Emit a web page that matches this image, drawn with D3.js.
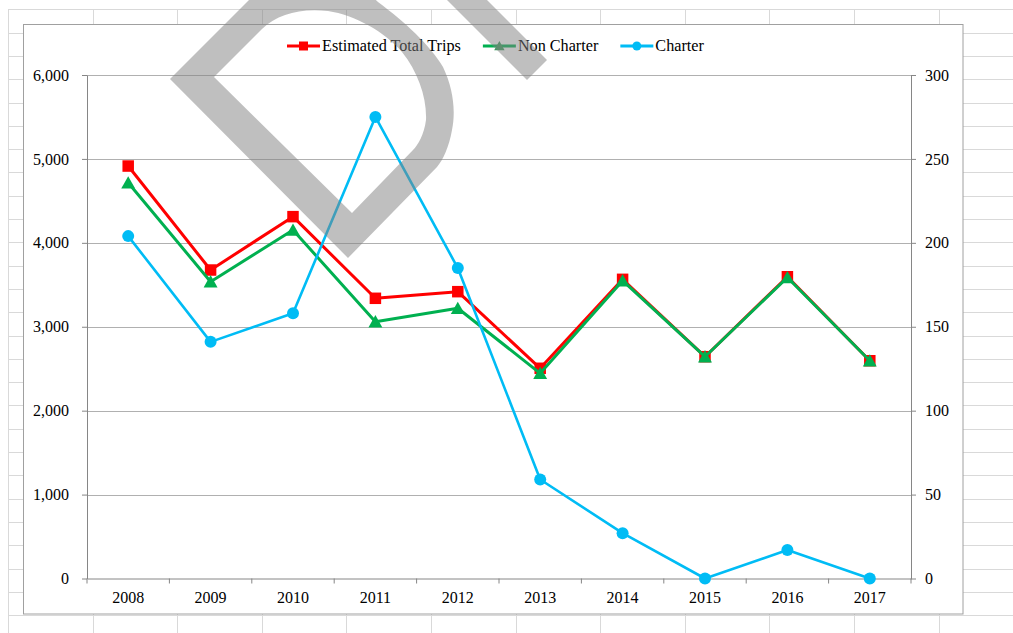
<!DOCTYPE html>
<html>
<head>
<meta charset="utf-8">
<script src="https://cdn.jsdelivr.net/npm/d3@7"></script>
<style>
  body { margin: 0; background: #fff; }
  svg { display: block; }
  text { font-family: "Liberation Serif", "Times New Roman", serif; font-size: 16px; fill: #000; }
</style>
</head>
<body>
<div id="canvas"></div>
<script>
// data
const years = ["2008", "2009", "2010", "2011", "2012", "2013", "2014", "2015", "2016", "2017"]
const totalTrips = [4915, 3676, 4312, 3339, 3418, 2505, 3565, 2643, 3596, 2595]
const nonCharter = [4716, 3537, 4153, 3060, 3220, 2445, 3549, 2643, 3587, 2595]
const charter = [204, 141, 158, 275, 185, 59, 27, 0, 17, 0]
const leftTicks = [0, 1000, 2000, 3000, 4000, 5000, 6000]
const rightTicks = [0, 50, 100, 150, 200, 250, 300]
const seriesNames = ["Estimated Total Trips", "Non Charter", "Charter"]

function drawChart() {
    const width = 1013
    const height = 633

    const dimensions = {
        box: { left: 23.5, top: 24.5, right: 963, bottom: 614 },
        plot: { left: 87, top: 75, right: 911, bottom: 578.5 },
    }

    const svg = d3.select("#canvas")
        .append("svg")
        .attr("width", width)
        .attr("height", height)

    // spreadsheet cells behind the chart
    const sheet = svg.append("g").attr("stroke", "#d9d9d9").attr("stroke-width", 1)
    d3.range(8, width, 84.6).forEach(x => {
        sheet.append("line").attr("x1", Math.round(x) + 0.5).attr("x2", Math.round(x) + 0.5)
            .attr("y1", 9).attr("y2", height)
    })
    d3.range(9.3, height, 23.3).forEach(y => {
        sheet.append("line").attr("y1", Math.round(y) + 0.5).attr("y2", Math.round(y) + 0.5)
            .attr("x1", 8).attr("x2", width)
    })

    // chart box
    svg.append("rect")
        .attr("x", dimensions.box.left)
        .attr("y", dimensions.box.top)
        .attr("width", dimensions.box.right - dimensions.box.left)
        .attr("height", dimensions.box.bottom - dimensions.box.top)
        .attr("fill", "#fff")
        .attr("stroke", "#a0a0a0")

    // scales
    const xScale = d3.scaleBand()
        .domain(years)
        .range([dimensions.plot.left, dimensions.plot.right])
        .padding(0)
    const xCenter = d => xScale(d) + xScale.bandwidth() / 2

    const yLeft = d3.scaleLinear()
        .domain([0, 6000])
        .range([dimensions.plot.bottom, dimensions.plot.top])
    const yRight = d3.scaleLinear()
        .domain([0, 300])
        .range([dimensions.plot.bottom, dimensions.plot.top])

    // gridlines
    svg.append("g")
        .selectAll("line")
        .data(leftTicks.filter(d => d > 0))
        .enter().append("line")
        .attr("x1", dimensions.plot.left)
        .attr("x2", dimensions.plot.right)
        .attr("y1", d => Math.round(yLeft(d)) + 0.5)
        .attr("y2", d => Math.round(yLeft(d)) + 0.5)
        .attr("stroke", "#b0b0b0")

    // axes
    const leftAxis = svg.append("g")
        .attr("transform", `translate(${dimensions.plot.left},0)`)
        .call(d3.axisLeft(yLeft).tickValues(leftTicks).tickFormat(d3.format(",")).tickSize(5).tickSizeOuter(0).tickPadding(13))
    const rightAxis = svg.append("g")
        .attr("transform", `translate(${dimensions.plot.right},0)`)
        .call(d3.axisRight(yRight).tickValues(rightTicks).tickSize(5).tickSizeOuter(0).tickPadding(9))
    const bottomAxis = svg.append("g")
        .attr("transform", `translate(0,${dimensions.plot.bottom})`)
        .call(d3.axisBottom(xScale).tickSize(0).tickSizeOuter(0).tickPadding(13))

    // boundary ticks between categories
    bottomAxis.selectAll(".cat-tick")
        .data(d3.range(years.length + 1))
        .enter().append("line")
        .attr("class", "cat-tick")
        .attr("x1", i => dimensions.plot.left + i * xScale.step())
        .attr("x2", i => dimensions.plot.left + i * xScale.step())
        .attr("y1", 0)
        .attr("y2", 5)
        .attr("stroke", "#868686")

    ;[leftAxis, rightAxis, bottomAxis].forEach(ax => {
        ax.selectAll("path.domain").attr("stroke", "#868686")
        ax.selectAll(".tick line").attr("stroke", "#868686")
        ax.selectAll("text")
            .style("font-family", '"Liberation Serif", "Times New Roman", serif')
            .style("font-size", "16px")
            .attr("fill", "#000")
    })

    // series
    const series = [
        { name: seriesNames[0], values: totalTrips, y: yLeft, color: "#ff0000", marker: "square", width: 3 },
        { name: seriesNames[1], values: nonCharter, y: yLeft, color: "#00b050", marker: "triangle", width: 3 },
        { name: seriesNames[2], values: charter, y: yRight, color: "#00bcf5", marker: "circle", width: 2.6 },
    ]

    const markerPath = (type, size) => {
        if (type === "square") return d3.symbol(d3.symbolSquare, size * size)()
        if (type === "triangle") return `M0,${-size * 0.55}L${size * 0.58},${size * 0.48}L${-size * 0.58},${size * 0.48}Z`
        return d3.symbol(d3.symbolCircle, Math.PI * (size / 2) * (size / 2))()
    }

    series.forEach(s => {
        const line = d3.line()
            .x((d, i) => xCenter(years[i]))
            .y(d => s.y(d))
        svg.append("path")
            .datum(s.values)
            .attr("d", line)
            .attr("fill", "none")
            .attr("stroke", s.color)
            .attr("stroke-width", s.width)
            .attr("stroke-linejoin", "round")

        svg.append("g")
            .selectAll("path")
            .data(s.values)
            .enter().append("path")
            .attr("transform", (d, i) => `translate(${xCenter(years[i])},${s.y(d)})`)
            .attr("d", markerPath(s.marker, s.marker === "square" ? 11.5 : 12))
            .attr("fill", s.color)
    })

    // legend
    const legend = svg.append("g").attr("transform", "translate(287,46)")
    let cursor = 0
    series.forEach(s => {
        const item = legend.append("g").attr("transform", `translate(${cursor},0)`)
        item.append("line")
            .attr("x1", 0).attr("x2", 33)
            .attr("stroke", s.color).attr("stroke-width", 3)
        item.append("path")
            .attr("transform", "translate(16.5,0)")
            .attr("d", markerPath(s.marker, 9))
            .attr("fill", s.marker === "triangle" ? "#3a9a5c" : s.color)
        const label = item.append("text")
            .attr("x", 35)
            .attr("y", 5)
            .style("font-size", "16.2px")
            .text(s.name)
        cursor += 35 + label.node().getComputedTextLength() + 22
    })

    // grey watermark on top
    const mark = svg.append("g").attr("fill", "rgba(128,128,128,0.5)")
    mark.append("path")
        .attr("fill-rule", "evenodd")
        .attr("d",
            "M170,79 L258,-9 C285,-33 345,-30 378,2 C405,22 430,45 443,67 C453,88 456,110 452,130 C449,147 443,160 437,167 L348,258 Z " +
            "M214,77 L262,29 C278,14 300,8 328,11 C355,15 385,32 402,52 C418,72 427,98 426,120 C424,135 418,145 413,150 L352,213 Z")
    mark.append("path")
        .attr("d", "M447,-40 L547,60 L527,80 L407,-40 Z")
}
drawChart()
</script>
</body>
</html>
